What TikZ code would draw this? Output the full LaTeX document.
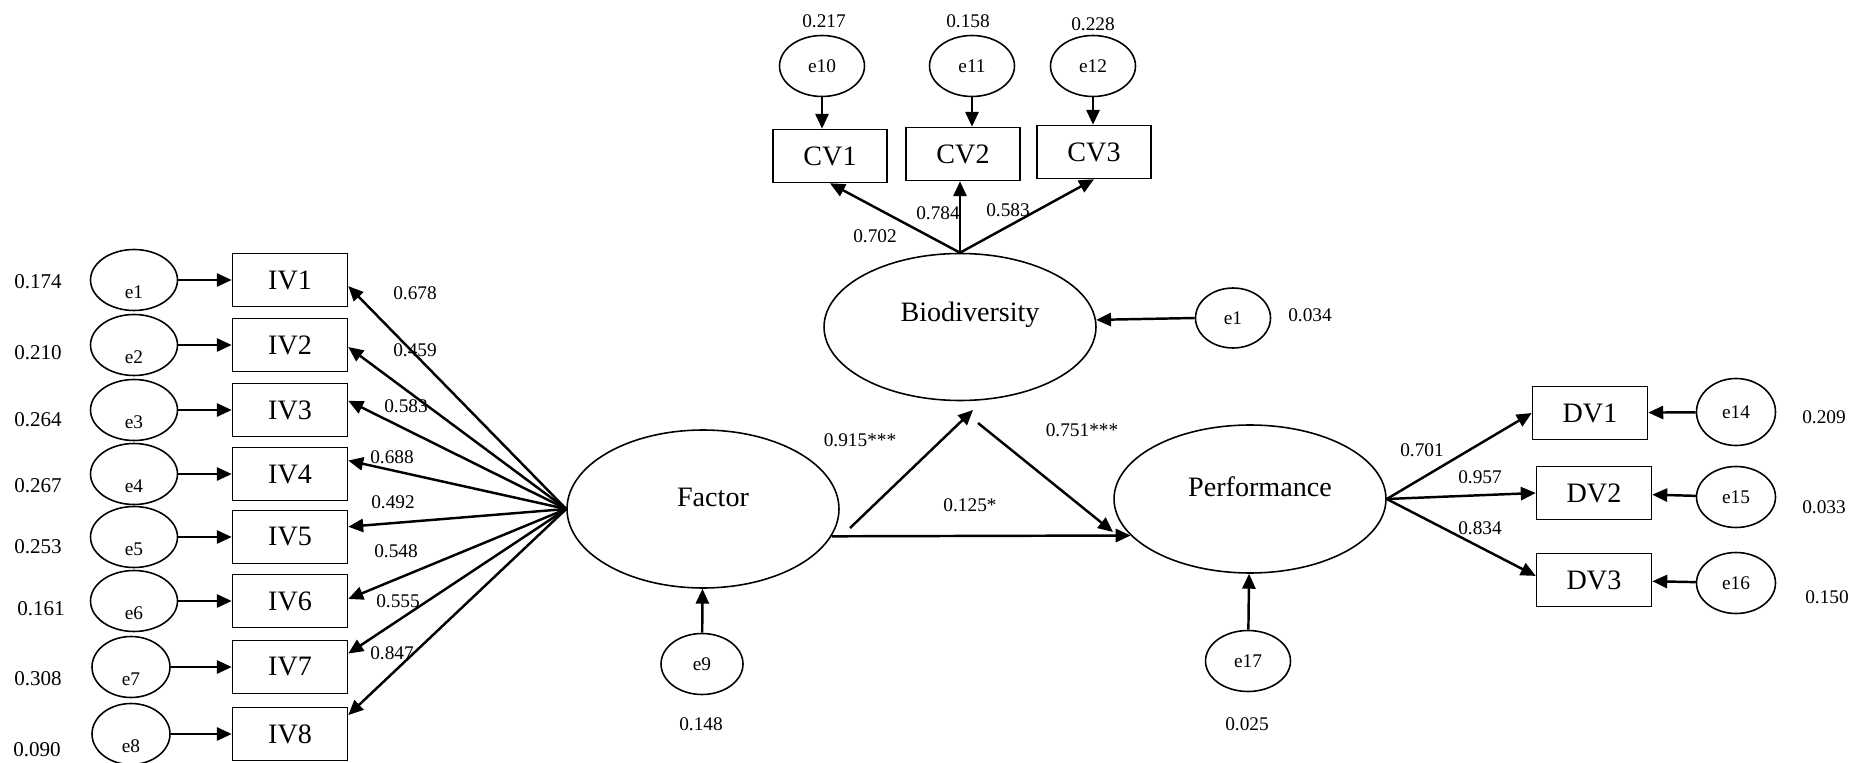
\documentclass[tikz,border=0pt]{standalone}
\usepackage{fontspec}
\setmainfont{Liberation Serif}
\usetikzlibrary{arrows.meta}
\usetikzlibrary{shapes.geometric}

\begin{document}
\begin{tikzpicture}[x=0.02cm, y=-0.02cm,
    obs/.style={draw, line width=0.9pt, inner sep=0pt, minimum width=2.3cm, minimum height=1.06cm, font=\fontsize{16}{18}\selectfont},
    lat/.style={draw, ellipse, line width=0.9pt, inner sep=0pt, minimum width=5.44cm, font=\fontsize{16}{18}\selectfont},
    err/.style={draw, ellipse, line width=0.9pt, inner sep=0pt, minimum width=1.7cm, minimum height=1.22cm, font=\fontsize{11}{13}\selectfont},
    lift/.style={font=\fontsize{16}{18}\selectfont, xshift=0.2cm, yshift=0.24cm},
    sink/.style={font=\fontsize{11}{13}\selectfont, yshift=-0.24cm},
    coef/.style={font=\fontsize{11}{13}\selectfont, inner sep=0pt},
    resid/.style={font=\fontsize{12}{14}\selectfont, inner sep=0pt},
    arr/.style={line width=1.4pt, -{Triangle[length=8.5pt,width=7.5pt]}}]
    \useasboundingbox (0,0) rectangle (1852,763);

    \node[resid] (r1) at (38,282) {0.174};
    \node[resid] (r2) at (38,353) {0.210};
    \node[resid] (r3) at (38,420) {0.264};
    \node[resid] (r4) at (38,486) {0.267};
    \node[resid] (r5) at (38,547) {0.253};
    \node[resid] (r6) at (41,609) {0.161};
    \node[resid] (r7) at (38,679) {0.308};
    \node[resid] (r8) at (37,750) {0.090};

    \node[err, minimum width=1.74cm, label={[sink]center:e1}] (eL1) at (134,280) {};
    \node[err, minimum width=1.74cm, label={[sink]center:e2}] (eL2) at (134,345) {};
    \node[err, minimum width=1.74cm, label={[sink]center:e3}] (eL3) at (134,410) {};
    \node[err, minimum width=1.74cm, label={[sink]center:e4}] (eL4) at (134,474) {};
    \node[err, minimum width=1.74cm, label={[sink]center:e5}] (eL5) at (134,537) {};
    \node[err, minimum width=1.74cm, label={[sink]center:e6}] (eL6) at (134,601) {};
    \node[err, minimum width=1.56cm, label={[sink]center:e7}] (eL7) at (131,667) {};
    \node[err, minimum width=1.56cm, label={[sink]center:e8}] (eL8) at (131,734) {};

    \node[obs] (IV1) at (290,280) {IV1};
    \node[obs] (IV2) at (290,345) {IV2};
    \node[obs] (IV3) at (290,410) {IV3};
    \node[obs] (IV4) at (290,474) {IV4};
    \node[obs] (IV5) at (290,537) {IV5};
    \node[obs] (IV6) at (290,601) {IV6};
    \node[obs] (IV7) at (290,667) {IV7};
    \node[obs] (IV8) at (290,734) {IV8};

    \draw[arr] (eL1) -- (IV1);
    \draw[arr] (eL2) -- (IV2);
    \draw[arr] (eL3) -- (IV3);
    \draw[arr] (eL4) -- (IV4);
    \draw[arr] (eL5) -- (IV5);
    \draw[arr] (eL6) -- (IV6);
    \draw[arr] (eL7) -- (IV7);
    \draw[arr] (eL8) -- (IV8);

    \node[lat, minimum height=3.16cm, label={[lift]center:Factor}] (Factor) at (703,509) {};
    \node[lat, minimum height=2.94cm, label={[lift]center:Biodiversity}] (Bio) at (960,327) {};
    \node[lat, minimum height=2.96cm, label={[lift]center:Performance}] (Perf) at (1250,499) {};

    \draw[arr] (Factor.west) -- (IV1.-6);
    \draw[arr] (Factor.west) -- (IV2.-2);
    \draw[arr] (Factor.west) -- (IV3.9);
    \draw[arr] (Factor.west) -- (IV4.13);
    \draw[arr] (Factor.west) -- (IV5.10);
    \draw[arr] (Factor.west) -- (IV6.2);
    \draw[arr] (Factor.west) -- (IV7.13);
    \draw[arr] (Factor.west) -- (IV8.18);

    \node[coef] (l1) at (415,293) {0.678};
    \node[coef] (l2) at (415,350) {0.459};
    \node[coef] (l3) at (406,406) {0.583};
    \node[coef] (l4) at (392,457) {0.688};
    \node[coef] (l5) at (393,502) {0.492};
    \node[coef] (l6) at (396,551) {0.548};
    \node[coef] (l7) at (398,601) {0.555};
    \node[coef] (l8) at (392,653) {0.847};

    \node[err, minimum width=1.64cm] (e9) at (702,664) {e9};
    \node[coef] (r9) at (701,724) {0.148};
    \draw[arr] (e9) -- (Factor);

    \node[err, minimum width=1.7cm] (e17) at (1248,661) {e17};
    \node[coef] (r17) at (1247,724) {0.025};
    \draw[arr] (e17) -- (Perf);

    \node[err, minimum width=1.5cm, minimum height=1.2cm] (eB) at (1233,318) {e1};
    \node[coef] (rB) at (1310,315) {0.034};
    \draw[arr] (eB.west) -- (Bio.3);

    \node[obs, minimum width=2.28cm] (CV1) at (830,156) {CV1};
    \node[obs, minimum width=2.28cm] (CV2) at (963,154) {CV2};
    \node[obs, minimum width=2.28cm] (CV3) at (1094,152) {CV3};
    \node[err] (e10) at (822,66) {e10};
    \node[err] (e11) at (972,66) {e11};
    \node[err] (e12) at (1093,66) {e12};
    \node[coef] (r10) at (824,21) {0.217};
    \node[coef] (r11) at (968,21) {0.158};
    \node[coef] (r12) at (1093,24) {0.228};
    \draw[arr] (e10) -- (e10 |- CV1.north);
    \draw[arr] (e11) -- (e11 |- CV2.north);
    \draw[arr] (e12) -- (e12 |- CV3.north);

    \draw[arr] (Bio.north) -- (CV1.south);
    \draw[arr] (Bio.north) -- (Bio.north |- CV2.south);
    \draw[arr] (Bio.north) -- (CV3.south);
    \node[coef] (b1) at (875,236) {0.702};
    \node[coef] (b2) at (938,213) {0.784};
    \node[coef] (b3) at (1008,210) {0.583};

    \coordinate (fb) at (850,528);
    \coordinate (bf) at (973,410);
    \coordinate (bp) at (978,423);
    \coordinate (pb) at (1113,532);
    \draw[arr] (fb) -- (bf);
    \draw[arr] (bp) -- (pb);
    \draw[arr] (Factor.-12) -- (Perf.197);
    \node[coef] (m1) at (860,440) {0.915***};
    \node[coef] (m2) at (1082,430) {0.751***};
    \node[coef] (m3) at (970,505) {0.125*};

    \node[obs, minimum width=2.3cm] (DV1) at (1590,413) {DV1};
    \node[obs, minimum width=2.3cm] (DV2) at (1594,493) {DV2};
    \node[obs, minimum width=2.3cm] (DV3) at (1594,580) {DV3};
    \node[err, minimum width=1.58cm, minimum height=1.34cm] (e14) at (1736,412) {e14};
    \node[err, minimum width=1.58cm] (e15) at (1736,497) {e15};
    \node[err, minimum width=1.58cm] (e16) at (1736,583) {e16};
    \node[coef] (r14) at (1824,417) {0.209};
    \node[coef] (r15) at (1824,507) {0.033};
    \node[coef] (r16) at (1827,597) {0.150};
    \draw[arr] (e14) -- (DV1);
    \draw[arr] (e15) -- (DV2);
    \draw[arr] (e16) -- (DV3);

    \draw[arr] (Perf.east) -- (DV1.west);
    \draw[arr] (Perf.east) -- (DV2.west);
    \draw[arr] (Perf.east) -- (DV3.176);
    \node[coef] (d1) at (1422,450) {0.701};
    \node[coef] (d2) at (1480,477) {0.957};
    \node[coef] (d3) at (1480,528) {0.834};
\end{tikzpicture}
\end{document}
